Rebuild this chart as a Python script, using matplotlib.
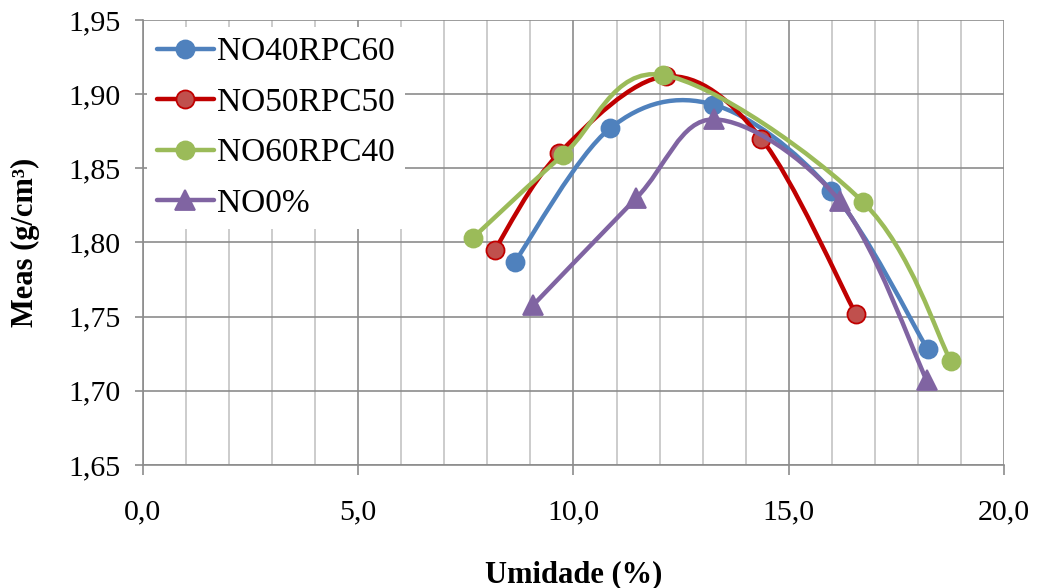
import matplotlib
matplotlib.use("Agg")
import matplotlib.pyplot as plt
from matplotlib.path import Path
from matplotlib.patches import PathPatch
from matplotlib.lines import Line2D
from matplotlib.ticker import MultipleLocator, FuncFormatter
import numpy as np

plt.rcParams['font.family'] = ['Liberation Serif', 'DejaVu Serif']

series_names = ["NO40RPC60", "NO50RPC50", "NO60RPC40", "NO0%"]
x_no40 = [8.64, 10.85, 13.24, 15.98, 18.22]
y_no40 = [1.787, 1.877, 1.893, 1.835, 1.728]
x_no50 = [8.17, 9.66, 12.14, 14.36, 16.55]
y_no50 = [1.795, 1.860, 1.912, 1.870, 1.752]
x_no60 = [7.66, 9.76, 12.07, 16.73, 18.76]
y_no60 = [1.803, 1.859, 1.913, 1.827, 1.720]
x_no0 = [9.07, 11.46, 13.26, 16.18, 18.20]
y_no0 = [1.758, 1.830, 1.883, 1.828, 1.707]

line_colors = ["#4F81BD", "#C00000", "#9BBB59", "#8064A2"]
face_colors = ["#4F81BD", "#C0504D", "#9BBB59", "#8064A2"]
edge_colors = ["#4F81BD", "#C00000", "#9BBB59", "#8064A2"]
markers = ["o", "o", "o", "^"]

xs = [x_no40, x_no50, x_no60, x_no0]
ys = [y_no40, y_no50, y_no60, y_no0]


def smooth_path(x, y, k=1.0 / 6.0):
    p = np.column_stack([x, y]).astype(float)
    n = len(p)
    verts = [p[0]]
    codes = [Path.MOVETO]
    for i in range(n - 1):
        p0 = p[i - 1] if i > 0 else p[i]
        p1 = p[i]
        p2 = p[i + 1]
        p3 = p[i + 2] if i + 2 < n else p[i + 1]
        c1 = p1 + (p2 - p0) * k
        c2 = p2 - (p3 - p1) * k
        verts += [c1, c2, p2]
        codes += [Path.CURVE4] * 3
    return Path(verts, codes)


fig = plt.figure(figsize=(10.38, 5.88), dpi=100)
ax = fig.add_axes([0.1375, 0.2092, 0.83, 0.7568])

ax.set_xlim(0, 20)
ax.set_ylim(1.65, 1.95)
ax.xaxis.set_major_locator(MultipleLocator(5))
ax.xaxis.set_minor_locator(MultipleLocator(1))
ax.yaxis.set_major_locator(MultipleLocator(0.05))
ax.xaxis.set_major_formatter(FuncFormatter(lambda v, p: f"{v:.1f}".replace(".", ",")))
ax.yaxis.set_major_formatter(FuncFormatter(lambda v, p: f"{v:.2f}".replace(".", ",")))

ax.grid(which="major", axis="both", color="#8C8C8C", linewidth=1.2, zorder=0)
ax.grid(which="minor", axis="x", color="#C4C4C4", linewidth=1.2, zorder=0)
ax.set_axisbelow(True)

for s in ["top", "right"]:
    ax.spines[s].set_visible(False)
for s in ["left", "bottom"]:
    ax.spines[s].set_color("#8C8C8C")
    ax.spines[s].set_linewidth(1.2)

ax.tick_params(axis="both", which="major", labelsize=21.5, colors="#8C8C8C",
               labelcolor="black", width=1.2)
ax.tick_params(axis="x", which="major", length=7, pad=18)
ax.tick_params(axis="y", which="major", length=6, pad=10)
ax.tick_params(axis="x", which="minor", length=0)

handles = []
for i in range(4):
    patch = PathPatch(smooth_path(xs[i], ys[i]), facecolor="none",
                      edgecolor=line_colors[i], linewidth=3.2, zorder=3 + i * 0.1,
                      capstyle="round", joinstyle="round")
    ax.add_patch(patch)
    ms = 13 if markers[i] == "o" else 14
    ax.plot(xs[i], ys[i], linestyle="none", marker=markers[i], markersize=ms,
            markerfacecolor=face_colors[i], markeredgecolor=edge_colors[i],
            markeredgewidth=1.3, zorder=3.05 + i * 0.1)
    handles.append(Line2D([0], [0], color=line_colors[i], linewidth=3.2,
                          marker=markers[i], markersize=ms,
                          markerfacecolor=face_colors[i],
                          markeredgecolor=edge_colors[i], markeredgewidth=1.3,
                          solid_capstyle="round"))

leg = ax.legend(handles, series_names, loc="upper left",
                bbox_to_anchor=(0.005, 0.985), fontsize=24, frameon=True,
                fancybox=False, edgecolor="none", facecolor="white", framealpha=1,
                handlelength=1.7, handletextpad=0.1, labelspacing=0.6,
                borderpad=0.3, borderaxespad=0)
leg.get_frame().set_linewidth(0)

ax.set_xlabel("Umidade (%)", fontsize=22, fontweight="bold", labelpad=25)
ax.set_ylabel("Meas (g/cm³)", fontsize=22, fontweight="bold", labelpad=20)

fig.savefig("out.png", dpi=100)
